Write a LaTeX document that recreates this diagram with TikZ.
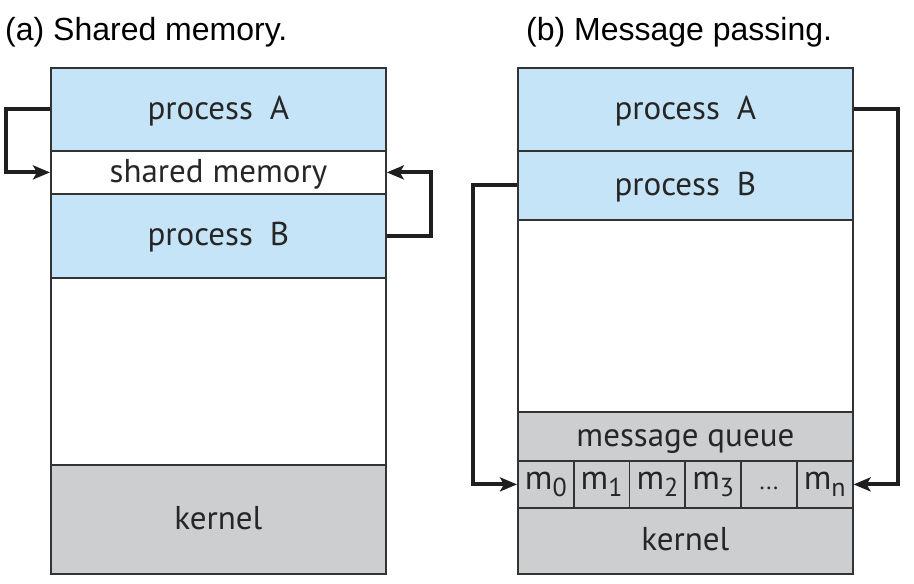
\documentclass[tikz,border=0pt]{standalone}
\usepackage{fontspec}
\setmainfont{PT Sans}
\newfontfamily\titlefont{Liberation Sans}
\usetikzlibrary{arrows.meta}
\definecolor{procblue}{HTML}{C6E4F7}
\definecolor{kgray}{HTML}{CDCED0}
\definecolor{edge}{HTML}{333333}
\newcommand{\msub}[1]{m\raisebox{-7pt}{\fontsize{26}{26}\selectfont #1}}
\tikzset{
  blk/.style={draw=edge, line width=1.8pt, anchor=north west, inner sep=0pt, font=\fontsize{33}{35}\selectfont, text=black!85, text height=25pt, text depth=5pt},
  cell/.style={blk, minimum width=55.8pt, minimum height=47pt, font=\fontsize{34}{36}\selectfont, text height=18pt, text depth=7pt},
  conn/.style={line width=4pt, draw=black!88, -{Stealth[length=17pt, width=14pt, inset=4pt]}},
  ttl/.style={anchor=base west, font=\titlefont\fontsize{32}{34}\selectfont, inner sep=0pt}
}
\begin{document}
\begin{tikzpicture}[x=1pt, y=-1pt]
\useasboundingbox (0,0) rectangle (914,584);
\node[ttl] (ta) at (5,40) {(a) Shared memory.};
\node[ttl] (tb) at (526,40) {(b) Message passing.};
% left
\node[blk, fill=procblue, minimum width=335pt, minimum height=83pt] (PA) at (50,67) {process\hspace{17pt}A};
\node[blk, fill=white, minimum width=335pt, minimum height=43pt] (SM) at (50,150) {shared memory};
\node[blk, fill=procblue, minimum width=335pt, minimum height=84pt] (PB) at (50,193) {process\hspace{17pt}B};
\node[blk, fill=white, minimum width=335pt, minimum height=187pt] (FL) at (50,277) {};
\node[blk, fill=kgray, minimum width=335pt, minimum height=109pt] (KL) at (50,464) {kernel};
\draw[conn] (PA.west) -- ++(-44,0) |- (SM.west);
\draw[conn] (PB.east) -- ++(44,0) |- (SM.east);
% right
\node[blk, fill=procblue, minimum width=335pt, minimum height=83pt] (PA2) at (517,67) {process\hspace{17pt}A};
\node[blk, fill=procblue, minimum width=335pt, minimum height=69pt] (PB2) at (517,150) {process\hspace{17pt}B};
\node[blk, fill=white, minimum width=335pt, minimum height=192pt] (FR) at (517,219) {};
\node[blk, fill=kgray, minimum width=335pt, minimum height=49pt] (MQ) at (517,411) {message queue};
\node[cell, fill=kgray] (m0) at (517,460) {\msub{0}};
\node[cell, fill=kgray] (m1) at (572.8,460) {\msub{1}};
\node[cell, fill=kgray] (m2) at (628.6,460) {\msub{2}};
\node[cell, fill=kgray] (m3) at (684.4,460) {\msub{3}};
\node[cell, fill=kgray] (md) at (740.2,460) {\fontsize{24}{24}\selectfont ...};
\node[cell, fill=kgray] (mn) at (796,460) {\msub{n}};
\node[blk, fill=kgray, minimum width=335pt, minimum height=66pt] (KR) at (517,507) {kernel};
\draw[conn] (PA2.east) -- ++(44,0) |- (mn.east);
\draw[conn] (PB2.west) -- ++(-44,0) |- (m0.west);
\end{tikzpicture}
\end{document}
